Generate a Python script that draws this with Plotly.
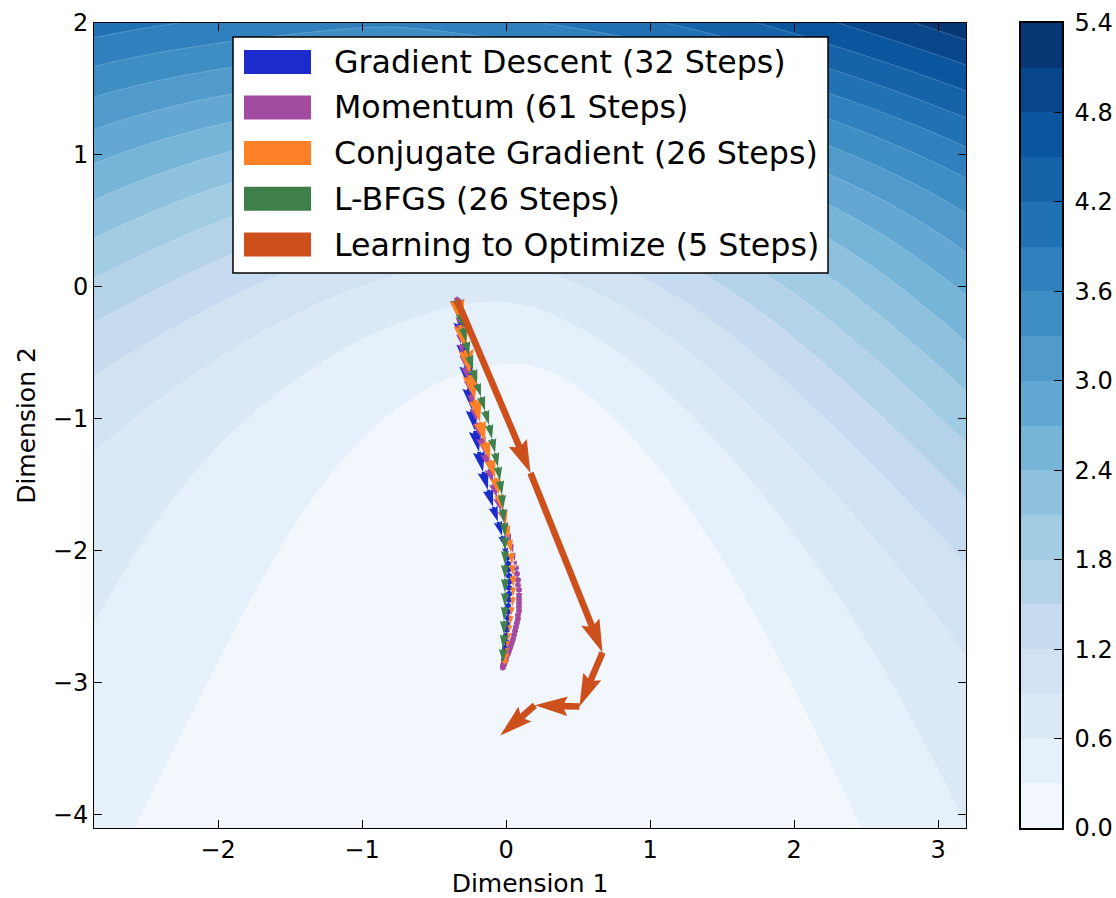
import numpy as np
import plotly.graph_objects as go

# ---------------- layout geometry (pixels) ----------------
FIG_W, FIG_H = 1116, 898
ML, MT, MB = 94, 23, 70
PAPER_W = FIG_W - ML            # right margin is zero; colorbar axes live in the paper area
PLOT_W, PLOT_H = 872, 805
CBAR_X0, CBAR_X1 = 1021, 1062   # colorbar strip

X_RANGE = [-2.861, 3.194]
Y_RANGE = [-4.1, 2.0]
PX_X = PLOT_W / (X_RANGE[1] - X_RANGE[0])
PX_Y = PLOT_H / (Y_RANGE[1] - Y_RANGE[0])

# ---------------- loss surface ----------------
# logistic-type loss: sum of weight * softplus(a*x + b*y + c), weight = exp(log_w)
LOSS_LOG_W = [-3.0289, -1.1650, -0.9249, -1.8826]
LOSS_A = [8.3297, 1.3228, -0.6292, -2.0889]
LOSS_B = [3.4716, 2.0156, 2.2413, 0.9520]
LOSS_C = [-0.1580, 0.3412, -0.0152, 0.3327]


def loss(x, y):
    f = np.zeros_like(x, dtype=float)
    for lw, a, b, c in zip(LOSS_LOG_W, LOSS_A, LOSS_B, LOSS_C):
        f += np.exp(lw) * np.logaddexp(0.0, a * x + b * y + c)
    return f


LEVEL_STEP = 0.3
LEVEL_MAX = 5.4
N_BANDS = 18
CBAR_TICKS = [0.0, 0.6, 1.2, 1.8, 2.4, 3.0, 3.6, 4.2, 4.8, 5.4]

gx = np.linspace(X_RANGE[0], X_RANGE[1], 420)
gy = np.linspace(Y_RANGE[0], Y_RANGE[1], 420)
GX, GY = np.meshgrid(gx, gy)
Z = loss(GX, GY)

BLUES = [(247, 251, 255), (222, 235, 247), (198, 219, 239), (158, 202, 225), (107, 174, 214),
         (66, 146, 198), (33, 113, 181), (8, 81, 156), (8, 48, 107)]


def blues(t):
    u = t * 8
    i = min(int(u), 7)
    f = u - i
    c = [BLUES[i][k] + (BLUES[i + 1][k] - BLUES[i][k]) * f for k in range(3)]
    return "rgb(%d,%d,%d)" % tuple(int(round(v)) for v in c)


# one colour per band, sampled at the band midpoint
colorscale = [[i / (N_BANDS - 1), blues((i + 0.5) / N_BANDS)] for i in range(N_BANDS)]

# ---------------- optimizer trajectories ----------------
GD_X = [-0.340, -0.319, -0.299, -0.278, -0.257, -0.236, -0.215, -0.188, -0.160, -0.125, -0.090,
        -0.056, -0.028, -0.007, 0.007, 0.014, 0.014, 0.021, 0.021, 0.021, 0.021, 0.021, 0.014,
        0.014, 0.014, 0.007, 0.007, 0.000, 0.000, -0.007, -0.007, -0.014, -0.014]
GD_Y = [-0.098, -0.265, -0.432, -0.598, -0.765, -0.932, -1.091, -1.250, -1.402, -1.538, -1.667,
        -1.780, -1.886, -1.977, -2.053, -2.098, -2.144, -2.189, -2.235, -2.280, -2.326, -2.371,
        -2.417, -2.462, -2.508, -2.553, -2.598, -2.644, -2.689, -2.735, -2.780, -2.826, -2.871]

MOM_X = [-0.340, -0.340, -0.340, -0.333, -0.333, -0.326, -0.313, -0.299, -0.285, -0.264, -0.243,
         -0.222, -0.201, -0.174, -0.146, -0.118, -0.090, -0.063, -0.035, -0.007, 0.014, 0.035,
         0.049, 0.063, 0.069, 0.076, 0.083, 0.083, 0.090, 0.090, 0.090, 0.090, 0.090, 0.090,
         0.083, 0.083, 0.076, 0.069, 0.063, 0.056, 0.049, 0.042, 0.035, 0.028, 0.021, 0.014,
         0.007, 0.000, 0.000, -0.007, -0.007, -0.014, -0.014, -0.014, -0.021, -0.021, -0.021,
         -0.021, -0.022, -0.022, -0.022, -0.022]
MOM_Y = [-0.098, -0.129, -0.174, -0.227, -0.288, -0.356, -0.432, -0.515, -0.606, -0.705, -0.811,
         -0.917, -1.030, -1.144, -1.265, -1.379, -1.492, -1.598, -1.697, -1.788, -1.871, -1.947,
         -2.015, -2.076, -2.129, -2.174, -2.220, -2.258, -2.295, -2.333, -2.364, -2.394, -2.424,
         -2.455, -2.485, -2.515, -2.545, -2.576, -2.606, -2.636, -2.667, -2.689, -2.712, -2.735,
         -2.758, -2.780, -2.795, -2.811, -2.826, -2.833, -2.841, -2.848, -2.856, -2.864, -2.864,
         -2.871, -2.874, -2.877, -2.880, -2.882, -2.884, -2.886]

CG_X = [-0.340, -0.313, -0.278, -0.250, -0.215, -0.181, -0.146, -0.111, -0.076, -0.049, -0.021,
        0.000, 0.021, 0.035, 0.042, 0.049, 0.049, 0.049, 0.042, 0.035, 0.028, 0.021, 0.014,
        0.007, 0.000, -0.007, -0.014]
CG_Y = [-0.098, -0.288, -0.477, -0.667, -0.856, -1.023, -1.174, -1.311, -1.447, -1.576, -1.697,
        -1.811, -1.917, -2.015, -2.106, -2.189, -2.273, -2.348, -2.424, -2.492, -2.561, -2.621,
        -2.682, -2.735, -2.788, -2.833, -2.879]

LBFGS_X = [-0.340, -0.319, -0.299, -0.278, -0.257, -0.229, -0.201, -0.174, -0.146, -0.118, -0.097,
           -0.076, -0.056, -0.042, -0.028, -0.021, -0.014, -0.007, -0.007, -0.007, -0.007, -0.007,
           -0.007, -0.014, -0.014, -0.021, -0.021]
LBFGS_Y = [-0.098, -0.205, -0.311, -0.417, -0.523, -0.629, -0.735, -0.833, -0.939, -1.045, -1.152,
           -1.258, -1.364, -1.470, -1.576, -1.682, -1.788, -1.894, -2.000, -2.106, -2.212, -2.318,
           -2.424, -2.530, -2.636, -2.742, -2.848]

L2O_X = [-0.34, 0.17, 0.67, 0.51, 0.20, -0.04]
L2O_Y = [-0.10, -1.41, -2.77, -3.18, -3.17, -3.40]

SERIES = [
    ("Gradient Descent (32 Steps)", GD_X, GD_Y, "#1c2bcc"),
    ("Momentum (61 Steps)", MOM_X, MOM_Y, "#a34ba1"),
    ("Conjugate Gradient (26 Steps)", CG_X, CG_Y, "#fe8026"),
    ("L-BFGS (26 Steps)", LBFGS_X, LBFGS_Y, "#3f7f4b"),
    ("Learning to Optimize (5 Steps)", L2O_X, L2O_Y, "#cc4f1c"),
]

# quiver-style arrow geometry, in units of the shaft width
W_ARROW = 0.06 * PLOT_W / 8
HEAD_W, HEAD_L, HEAD_AL = 3.0, 5.0, 4.5


def arrow_polys(xs, ys, w=W_ARROW):
    ox, oy = [], []
    for i in range(len(xs) - 1):
        dx = (xs[i + 1] - xs[i]) * PX_X
        dy = (ys[i + 1] - ys[i]) * PX_Y
        L = np.hypot(dx, dy) / w
        if L < 1:           # very short step: small hexagonal dot
            th = np.arange(8) * np.pi / 3
            X = 0.5 * np.cos(th)
            Y = 0.5 * np.sin(th)
        else:
            Y = np.array([0.5, 0.5, HEAD_W / 2, 0, -HEAD_W / 2, -0.5, -0.5, 0.5])
            if L < HEAD_L:  # short step: shrunken head without shaft
                X = np.array([0, HEAD_L - HEAD_AL, 0, HEAD_L, 0, HEAD_L - HEAD_AL, 0, 0]) * L / HEAD_L
                Y = Y * L / HEAD_L
            else:
                X = np.array([0, L - HEAD_AL, L - HEAD_L, L, L - HEAD_L, L - HEAD_AL, 0, 0])
        a = np.arctan2(dy, dx)
        Xr = (X * np.cos(a) - Y * np.sin(a)) * w
        Yr = (X * np.sin(a) + Y * np.cos(a)) * w
        ox += list(xs[i] + Xr / PX_X) + [None]
        oy += list(ys[i] + Yr / PX_Y) + [None]
    return ox, oy


FONT = "DejaVu Sans"

fig = go.Figure()
fig.add_trace(go.Contour(
    x=gx, y=gy, z=Z, autocontour=False,
    contours=dict(start=LEVEL_STEP, end=LEVEL_MAX - LEVEL_STEP, size=LEVEL_STEP,
                  coloring="fill", showlines=True),
    line=dict(width=0.6, color="rgba(255,255,255,0.35)", smoothing=0),
    colorscale=colorscale, showscale=False, hoverinfo="skip",
))

for name, xs, ys, col in SERIES:
    ax_, ay_ = arrow_polys(xs, ys)
    fig.add_trace(go.Scatter(x=ax_, y=ay_, mode="lines", fill="toself", fillcolor=col,
                             line=dict(width=0, color=col), name=name, showlegend=False,
                             hoverinfo="skip"))

# colorbar drawn as a one-column heatmap of the band midpoints
band_mid = [LEVEL_STEP * (i + 0.5) for i in range(N_BANDS)]
fig.add_trace(go.Heatmap(
    x=[0.5], y=band_mid, z=[[v] for v in band_mid], xaxis="x2", yaxis="y2",
    zmin=band_mid[0], zmax=band_mid[-1], colorscale=colorscale, showscale=False,
    hoverinfo="skip",
))


def px2paper(xp, yp):
    return (xp - ML) / PAPER_W, (MT + PLOT_H - yp) / PLOT_H


# legend box
shapes = []
x0p, y0p = px2paper(233, 273)
x1p, y1p = px2paper(828, 37)
shapes.append(dict(type="rect", xref="paper", yref="paper", x0=x0p, y0=y0p, x1=x1p, y1=y1p,
                   line=dict(color="black", width=1.5), fillcolor="white", layer="above"))
annotations = []
ROW_Y = [62, 107.5, 153, 198.7, 244.5]
for (name, _, _, col), ry in zip(SERIES, ROW_Y):
    sx0, sy0 = px2paper(244, ry + 12)
    sx1, sy1 = px2paper(311, ry - 12)
    shapes.append(dict(type="rect", xref="paper", yref="paper", x0=sx0, y0=sy0, x1=sx1, y1=sy1,
                       line=dict(width=0), fillcolor=col, layer="above"))
    tx, ty = px2paper(332, ry)
    annotations.append(dict(x=tx, y=ty, xref="paper", yref="paper", text=name, showarrow=False,
                            xanchor="left", yanchor="middle",
                            font=dict(family=FONT, size=31.7, color="black")))

axis_common = dict(showgrid=False, zeroline=False, showline=True, linecolor="black", linewidth=1,
                   mirror="ticks", ticks="inside", ticklen=8, tickwidth=1, tickcolor="black",
                   tickfont=dict(family=FONT, size=24, color="black"))

fig.update_layout(
    width=FIG_W, height=FIG_H, autosize=False,
    margin=dict(l=ML, r=0, t=MT, b=MB, pad=0),
    paper_bgcolor="white", plot_bgcolor="white",
    xaxis=dict(domain=[0, PLOT_W / PAPER_W], range=X_RANGE, tickvals=[-2, -1, 0, 1, 2, 3],
               title=dict(text="Dimension 1", font=dict(family=FONT, size=25, color="black"), standoff=18),
               **axis_common),
    yaxis=dict(range=Y_RANGE, tickvals=[-4, -3, -2, -1, 0, 1, 2],
               title=dict(text="Dimension 2", font=dict(family=FONT, size=25, color="black"), standoff=10),
               **axis_common),
    xaxis2=dict(domain=[(CBAR_X0 - ML) / PAPER_W, (CBAR_X1 - ML) / PAPER_W], range=[0, 1],
                anchor="y2", showticklabels=False, ticks="", showgrid=False, zeroline=False,
                showline=True, mirror=True, linecolor="black", linewidth=1.5, fixedrange=True),
    yaxis2=dict(domain=[0, 1], range=[0, LEVEL_MAX], anchor="x2", side="right",
                tickvals=CBAR_TICKS, ticktext=["%.1f" % v for v in CBAR_TICKS],
                ticks="inside", ticklen=8, tickwidth=1, tickcolor="black",
                showgrid=False, zeroline=False, showline=True, mirror=True,
                linecolor="black", linewidth=1.5, ticklabelstandoff=6,
                tickfont=dict(family=FONT, size=24, color="black")),
    shapes=shapes, annotations=annotations, showlegend=False,
)

fig.write_html("out.html")
